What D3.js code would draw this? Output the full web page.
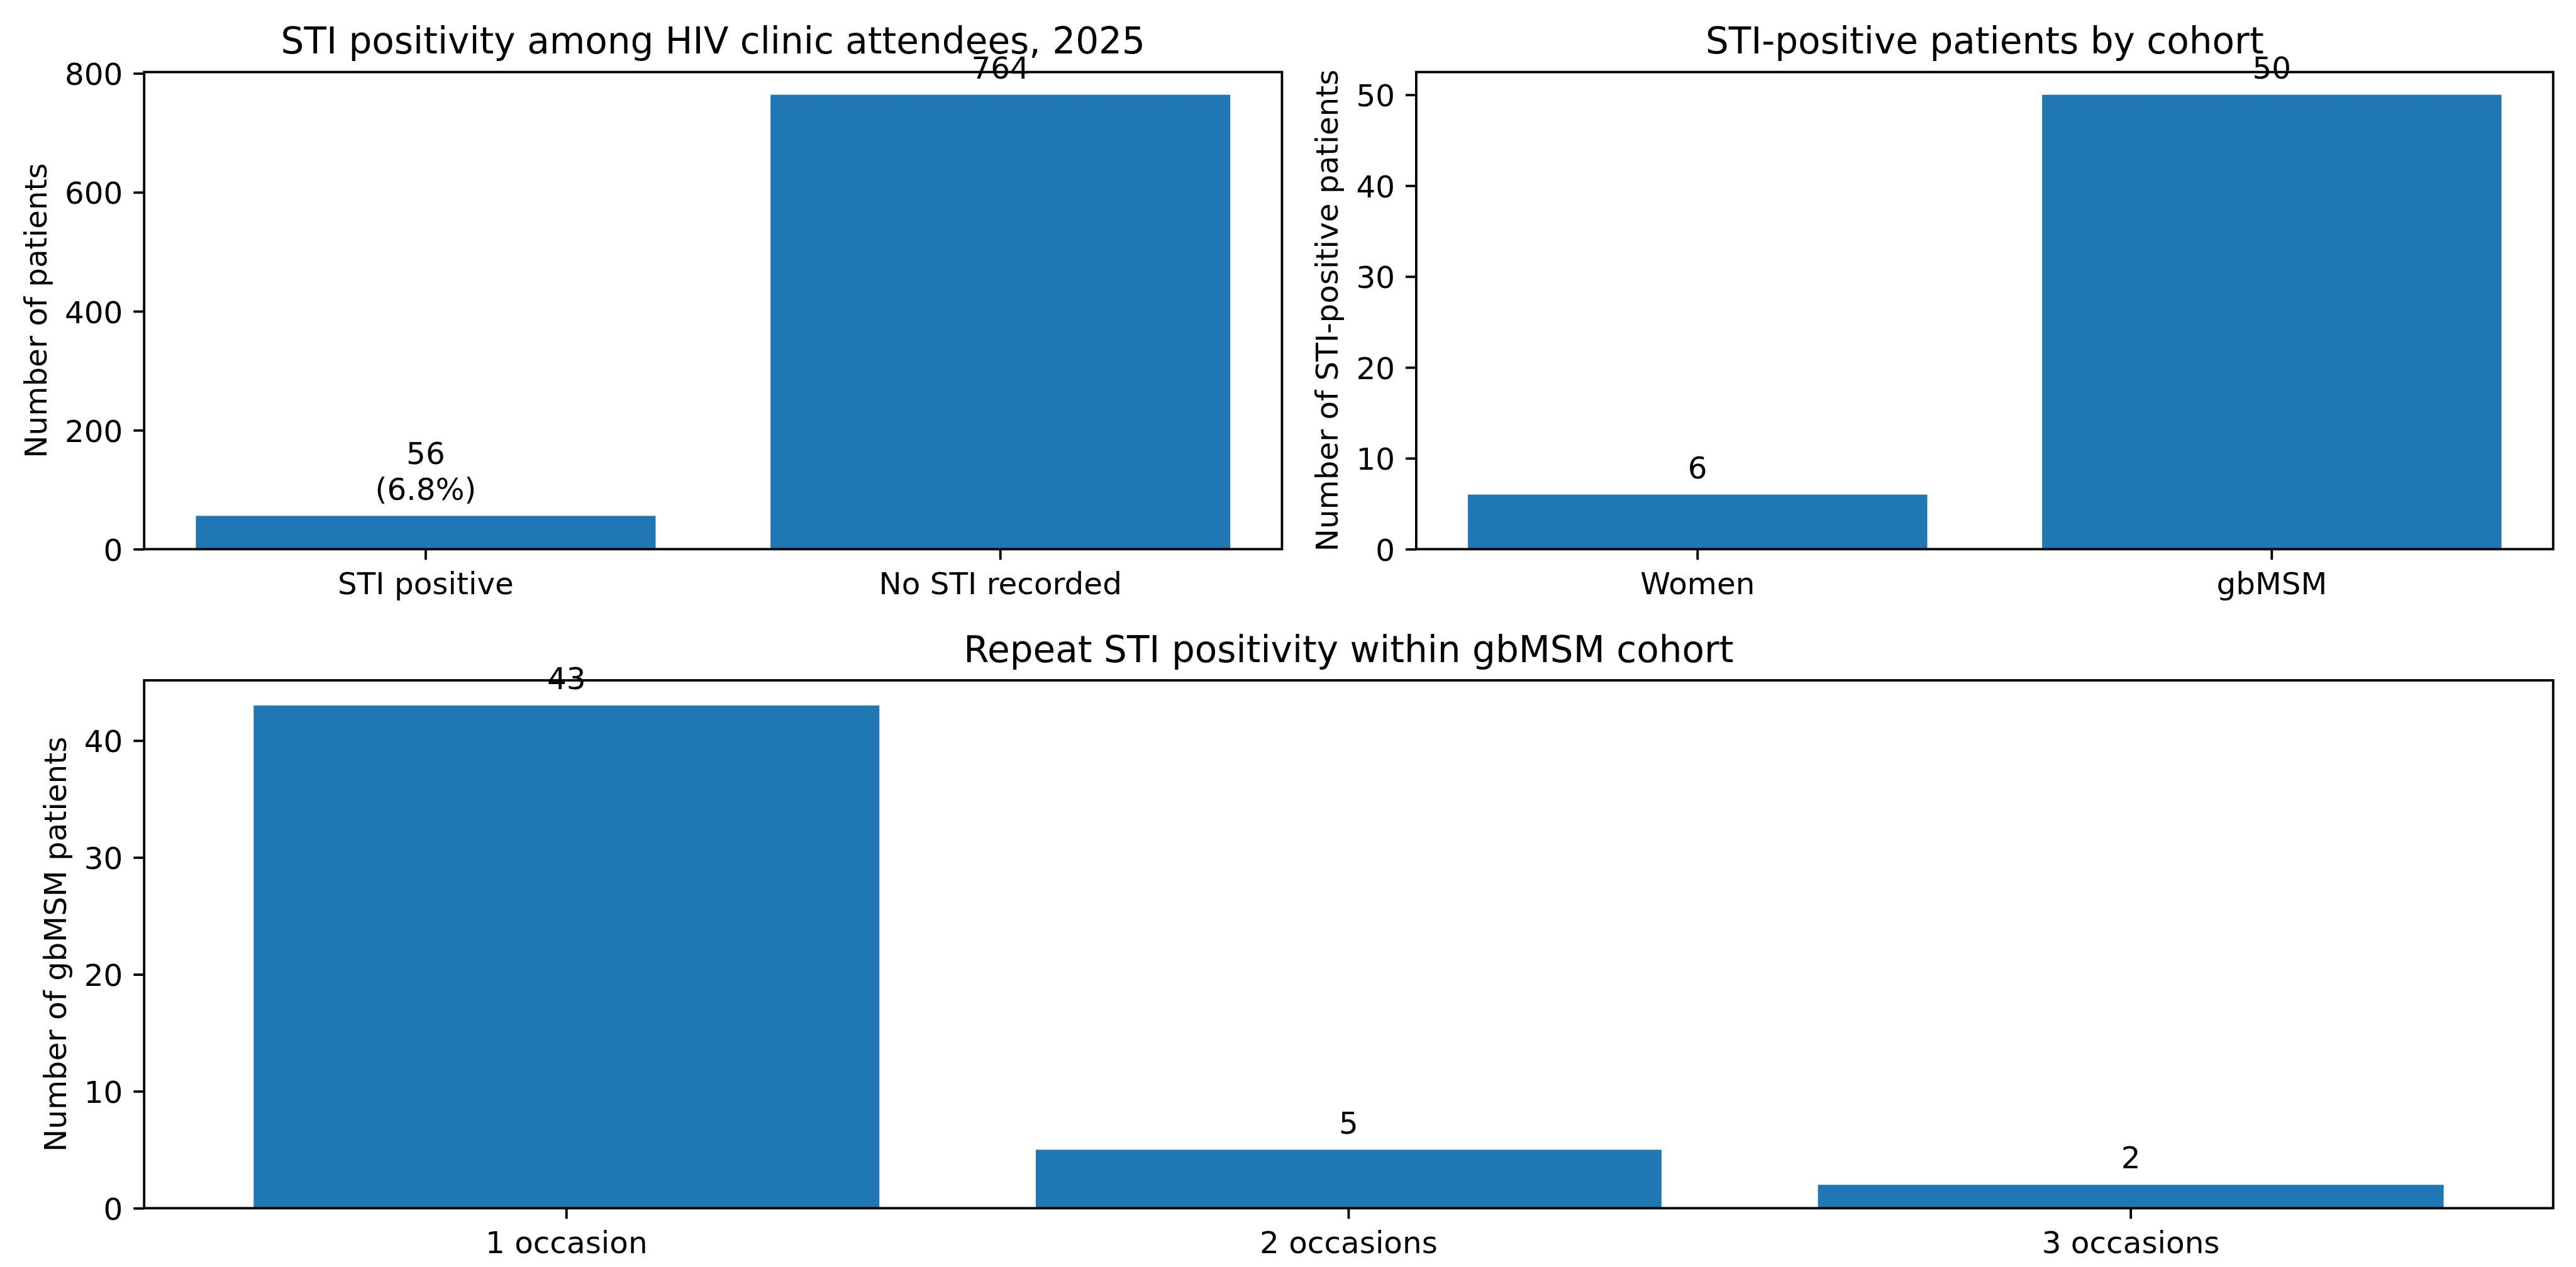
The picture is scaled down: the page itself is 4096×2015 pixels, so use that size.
<!DOCTYPE html>
<html>
<head>
<meta charset="utf-8">
<script src="https://cdn.jsdelivr.net/npm/d3@7"></script>
<style>
  html, body { margin: 0; padding: 0; background: #ffffff; }
  svg { display: block; }
  text { font-family: "DejaVu Sans", sans-serif; fill: #000; }
</style>
</head>
<body>
<svg id="chart" width="4096" height="2015"></svg>
<script>
// ---------- data ----------
const overallCategories = ["STI positive", "No STI recorded"];
const overallValues = [56, 764];
const overallLabels = [["56", "(6.8%)"], ["764"]];
const overallTicks = [0, 200, 400, 600, 800];

const cohortCategories = ["Women", "gbMSM"];
const cohortValues = [6, 50];
const cohortLabels = [["6"], ["50"]];
const cohortTicks = [0, 10, 20, 30, 40, 50];

const repeatCategories = ["1 occasion", "2 occasions", "3 occasions"];
const repeatValues = [43, 5, 2];
const repeatLabels = [["43"], ["5"], ["2"]];
const repeatTicks = [0, 10, 20, 30, 40];

const titles = [
  "STI positivity among HIV clinic attendees, 2025",
  "STI-positive patients by cohort",
  "Repeat STI positivity within gbMSM cohort"
];
const yLabels = [
  "Number of patients",
  "Number of STI-positive patients",
  "Number of gbMSM patients"
];

// ---------- layout (reference pixel units, scaled at the end) ----------
const SCALE = 0.955;
const FS = 50.7;          // 10pt
const FS_TITLE = 60.8;    // 12pt
const TICK = 17.7, PAD = 17.7, LW = 4;
const BAR_COLOR = "#1f77b4";

const svg = d3.select("#chart");
svg.append("rect").attr("width", 4096).attr("height", 2015).attr("fill", "#fff");
const root = svg.append("g").attr("transform", `scale(${SCALE})`);

function panel(cfg) {
  const { x0, x1, y0, y1, cats, vals, labels, ticks, title, ylabel, ylabelX } = cfg;
  const n = cats.length;
  const x = d3.scaleBand().domain(cats).range([x0, x1])
    .paddingInner(0.2).paddingOuter(0.05 * (n - 0.2)).align(0.5);
  const ymax = d3.max(vals) * 1.05;
  const y = d3.scaleLinear().domain([0, ymax]).range([y1, y0]);

  const g = root.append("g");

  // bars
  g.selectAll("rect.bar").data(vals).join("rect")
    .attr("class", "bar")
    .attr("x", (d, i) => x(cats[i]))
    .attr("width", x.bandwidth())
    .attr("y", d => y(d))
    .attr("height", d => y(0) - y(d))
    .attr("fill", BAR_COLOR);

  // spines
  g.append("rect")
    .attr("x", x0).attr("y", y0)
    .attr("width", x1 - x0).attr("height", y1 - y0)
    .attr("fill", "none").attr("stroke", "#000").attr("stroke-width", LW)
    .attr("stroke-linejoin", "miter");

  // y axis
  const ya = g.append("g").attr("transform", `translate(${x0},0)`)
    .call(d3.axisLeft(y).tickValues(ticks).tickSize(TICK).tickPadding(PAD).tickFormat(d3.format("d")));
  ya.select(".domain").remove();
  ya.selectAll(".tick line").attr("stroke", "#000").attr("stroke-width", LW);
  ya.selectAll(".tick text").attr("font-size", FS).attr("dy", "0.375em")
    .attr("font-family", "DejaVu Sans").attr("fill", "#000");

  // x axis
  const xa = g.append("g").attr("transform", `translate(0,${y1})`)
    .call(d3.axisBottom(x).tickSize(TICK).tickPadding(PAD));
  xa.select(".domain").remove();
  xa.selectAll(".tick line").attr("stroke", "#000").attr("stroke-width", LW);
  xa.selectAll(".tick text").attr("font-size", FS).attr("dy", "0.78em")
    .attr("font-family", "DejaVu Sans").attr("fill", "#000");

  // bar labels
  labels.forEach((lines, i) => {
    const cx = x(cats[i]) + x.bandwidth() / 2;
    const base = y(vals[i]) - 27;
    const t = g.append("text").attr("text-anchor", "middle").attr("font-size", FS);
    lines.forEach((ln, k) => {
      t.append("tspan").attr("x", cx)
        .attr("y", base - (lines.length - 1 - k) * 59)
        .text(ln);
    });
  });

  // title
  g.append("text")
    .attr("x", (x0 + x1) / 2).attr("y", y0 - 30.5)
    .attr("text-anchor", "middle").attr("font-size", FS_TITLE)
    .text(title);

  // y label
  g.append("text")
    .attr("transform", `translate(${ylabelX},${(y0 + y1) / 2}) rotate(-90)`)
    .attr("text-anchor", "middle").attr("font-size", FS)
    .text(ylabel);
}

panel({ x0: 240, x1: 2134.5, y0: 120, y1: 914.5,
  cats: overallCategories, vals: overallValues, labels: overallLabels, ticks: overallTicks,
  title: titles[0], ylabel: yLabels[0], ylabelX: 78 });

panel({ x0: 2358, x1: 4251, y0: 120, y1: 914.5,
  cats: cohortCategories, vals: cohortValues, labels: cohortLabels, ticks: cohortTicks,
  title: titles[1], ylabel: yLabels[1], ylabelX: 2227 });

panel({ x0: 240, x1: 4251, y0: 1133, y1: 2012,
  cats: repeatCategories, vals: repeatValues, labels: repeatLabels, ticks: repeatTicks,
  title: titles[2], ylabel: yLabels[2], ylabelX: 110 });
</script>
</body>
</html>
